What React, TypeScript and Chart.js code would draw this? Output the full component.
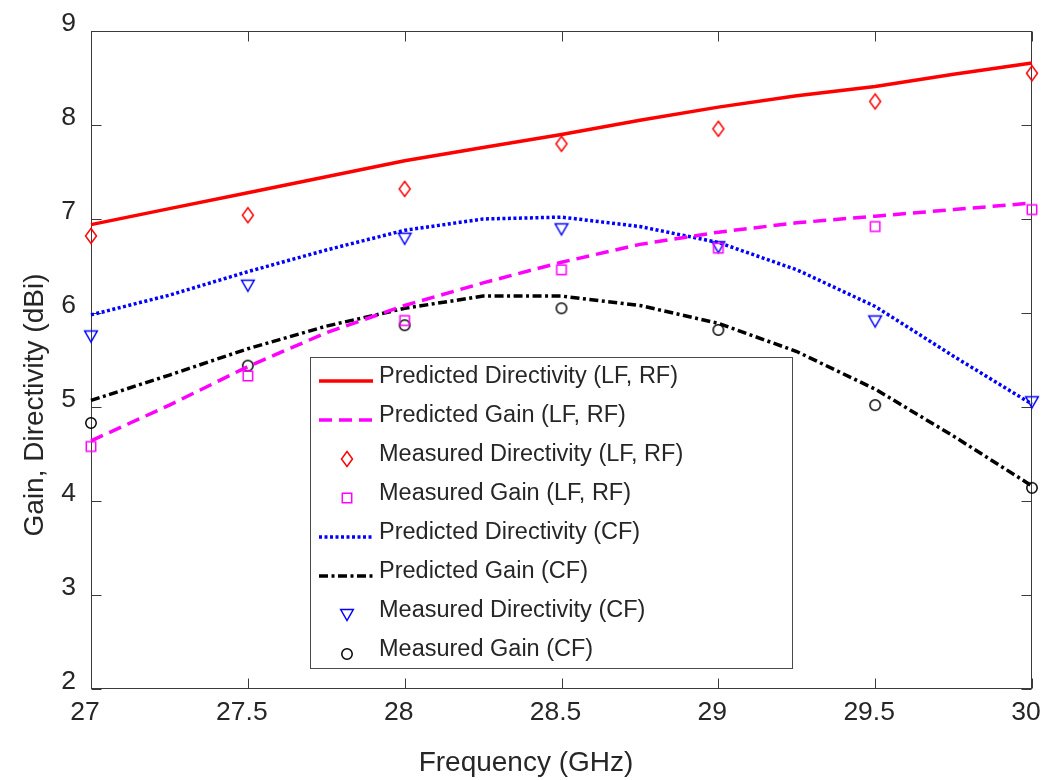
import React, { useEffect, useRef } from 'react';
import { Chart, registerables } from 'chart.js';

Chart.register(...registerables);

// ---- data ----
const predFreq = [27, 27.25, 27.5, 27.75, 28, 28.25, 28.5, 28.75, 29, 29.25, 29.5, 29.75, 30];
const measFreq = [27, 27.5, 28, 28.5, 29, 29.5, 30];

const predDirLF = [6.94, 7.11, 7.28, 7.45, 7.62, 7.76, 7.9, 8.05, 8.19, 8.31, 8.41, 8.54, 8.66];
const predGainLF = [4.64, 5.02, 5.43, 5.79, 6.08, 6.32, 6.54, 6.73, 6.86, 6.96, 7.03, 7.1, 7.17];
const measDirLF = [6.82, 7.04, 7.32, 7.8, 7.96, 8.25, 8.55];
const measGainLF = [4.58, 5.33, 5.92, 6.46, 6.69, 6.92, 7.1];
const predDirCF = [5.98, 6.19, 6.44, 6.67, 6.88, 7.0, 7.02, 6.92, 6.75, 6.46, 6.07, 5.54, 5.03];
const predGainCF = [5.07, 5.34, 5.62, 5.86, 6.05, 6.18, 6.18, 6.08, 5.89, 5.59, 5.19, 4.69, 4.16];
const measDirCF = [5.75, 6.29, 6.79, 6.89, 6.7, 5.91, 5.05];
const measGainCF = [4.83, 5.44, 5.87, 6.05, 5.82, 5.02, 4.14];

const xTicks = [27, 27.5, 28, 28.5, 29, 29.5, 30];
const yTicks = [2, 3, 4, 5, 6, 7, 8, 9];

const labels = [
  'Predicted Directivity (LF, RF)',
  'Predicted Gain (LF, RF)',
  'Measured Directivity (LF, RF)',
  'Measured Gain (LF, RF)',
  'Predicted Directivity (CF)',
  'Predicted Gain (CF)',
  'Measured Directivity (CF)',
  'Measured Gain (CF)',
];
const xTitle = 'Frequency (GHz)';
const yTitle = 'Gain, Directivity (dBi)';

const FONT = '"Liberation Sans", Arial, Helvetica, sans-serif';
const TEXT = '#262626';
const AXIS = '#3a3a3a';

function makeMarker(kind: string, color: string): HTMLCanvasElement {
  const c = document.createElement('canvas');
  const w = kind === 'diamond' ? 16 : 16;
  const h = kind === 'diamond' ? 20 : 16;
  c.width = w;
  c.height = h;
  const ctx = c.getContext('2d')!;
  ctx.strokeStyle = color;
  ctx.lineWidth = 1.5;
  const cx = w / 2;
  const cy = h / 2;
  ctx.beginPath();
  if (kind === 'diamond') {
    ctx.moveTo(cx, cy - 7.5);
    ctx.lineTo(cx + 5.5, cy);
    ctx.lineTo(cx, cy + 7.5);
    ctx.lineTo(cx - 5.5, cy);
    ctx.closePath();
  } else if (kind === 'square') {
    ctx.rect(cx - 4.7, cy - 4.7, 9.4, 9.4);
  } else if (kind === 'triangle') {
    ctx.moveTo(cx - 6.3, cy - 5.5);
    ctx.lineTo(cx + 6.3, cy - 5.5);
    ctx.lineTo(cx, cy + 5.5);
    ctx.closePath();
  } else {
    ctx.arc(cx, cy, 5.2, 0, Math.PI * 2);
  }
  ctx.stroke();
  return c;
}

function pts(xs: number[], ys: number[]) {
  return xs.map((x, i) => ({ x, y: ys[i] }));
}

const axesPlugin = {
  id: 'matlabAxes',
  beforeDatasetsDraw(chart: any) {
    const { ctx, chartArea: a, scales } = chart;
    ctx.save();
    ctx.strokeStyle = AXIS;
    ctx.lineWidth = 1;
    const L = Math.round(a.left) + 0.5;
    const R = Math.round(a.right) - 0.5;
    const T = Math.round(a.top) + 0.5;
    const B = Math.round(a.bottom) - 0.5;
    ctx.strokeRect(L, T, R - L, B - T);
    ctx.beginPath();
    xTicks.forEach((v) => {
      const px = Math.round(scales.x.getPixelForValue(v)) + 0.5;
      ctx.moveTo(px, B);
      ctx.lineTo(px, B - 10);
      ctx.moveTo(px, T);
      ctx.lineTo(px, T + 10);
    });
    yTicks.forEach((v) => {
      const py = Math.round(scales.y.getPixelForValue(v)) + 0.5;
      ctx.moveTo(L, py);
      ctx.lineTo(L + 10, py);
      ctx.moveTo(R, py);
      ctx.lineTo(R - 10, py);
    });
    ctx.stroke();
    ctx.restore();
  },
  afterDatasetsDraw(chart: any) {
    const { ctx } = chart;
    ctx.save();
    // legend box
    const bx = 310.5, by = 357.5, bw = 482, bh = 311;
    ctx.fillStyle = '#ffffff';
    ctx.fillRect(bx, by, bw, bh);
    ctx.strokeStyle = '#4a4a4a';
    ctx.lineWidth = 1;
    ctx.strokeRect(bx, by, bw, bh);
    ctx.font = `23.5px ${FONT}`;
    ctx.textBaseline = 'alphabetic';
    ctx.textAlign = 'left';
    chart.data.datasets.forEach((ds: any, i: number) => {
      const base = 383 + 39 * i;
      const sy = base - 2;
      if (ds.showLine) {
        ctx.save();
        ctx.strokeStyle = ds.borderColor;
        ctx.lineWidth = ds.borderWidth;
        ctx.setLineDash(ds.borderDash || []);
        ctx.beginPath();
        ctx.moveTo(319, sy);
        ctx.lineTo(373, sy);
        ctx.stroke();
        ctx.restore();
      } else {
        const img = ds.pointStyle as HTMLCanvasElement;
        ctx.drawImage(img, 347 - img.width / 2, sy - img.height / 2);
      }
      ctx.fillStyle = TEXT;
      ctx.fillText(ds.label, 379, base);
    });
    ctx.restore();
  },
  afterDraw(chart: any) {
    const { ctx } = chart;
    ctx.save();
    ctx.fillStyle = TEXT;
    ctx.font = `28px ${FONT}`;
    ctx.textAlign = 'center';
    ctx.textBaseline = 'alphabetic';
    ctx.fillText(xTitle, 526, 771);
    ctx.translate(43, 405);
    ctx.rotate(-Math.PI / 2);
    ctx.fillText(yTitle, 0, 0);
    ctx.restore();
  },
};

export default function App() {
  const ref = useRef<HTMLCanvasElement | null>(null);

  useEffect(() => {
    if (!ref.current) return;
    const diamond = makeMarker('diamond', '#ff0000');
    const square = makeMarker('square', '#ff00ff');
    const triangle = makeMarker('triangle', '#0000ff');
    const circle = makeMarker('circle', '#000000');

    const lineDs = (label: string, ys: number[], color: string, dash: number[]) => ({
      label,
      data: pts(predFreq, ys),
      showLine: true,
      borderColor: color,
      backgroundColor: color,
      borderWidth: 3.5,
      borderDash: dash,
      pointRadius: 0,
      pointHoverRadius: 0,
      tension: 0,
      fill: false,
      clip: false,
    });
    const markDs = (label: string, ys: number[], img: HTMLCanvasElement, color: string) => ({
      label,
      data: pts(measFreq, ys),
      showLine: false,
      pointStyle: img,
      pointRadius: 8,
      pointHoverRadius: 8,
      borderColor: color,
      backgroundColor: color,
      clip: false,
    });

    const chart = new Chart(ref.current, {
      type: 'scatter',
      data: {
        datasets: [
          lineDs(labels[0], predDirLF, '#ff0000', []),
          lineDs(labels[1], predGainLF, '#ff00ff', [13, 7]),
          markDs(labels[2], measDirLF, diamond, '#ff0000'),
          markDs(labels[3], measGainLF, square, '#ff00ff'),
          lineDs(labels[4], predDirCF, '#0000ff', [3, 2.5]),
          lineDs(labels[5], predGainCF, '#000000', [9, 3.5, 3, 3.5]),
          markDs(labels[6], measDirCF, triangle, '#0000ff'),
          markDs(labels[7], measGainCF, circle, '#000000'),
        ] as any,
      },
      options: {
        responsive: false,
        animation: false,
        devicePixelRatio: 1,
        layout: { padding: { top: 31, right: 25, left: 0, bottom: 0 } },
        plugins: {
          legend: { display: false },
          tooltip: { enabled: false },
        },
        scales: {
          x: {
            type: 'linear',
            min: 27,
            max: 30,
            afterFit: (s: any) => {
              s.height = 91;
            },
            afterBuildTicks: (s: any) => {
              s.ticks = xTicks.map((v) => ({ value: v }));
            },
            ticks: {
              font: { family: FONT, size: 26.5 },
              color: TEXT,
              padding: 8,
              labelOffset: -6,
              maxRotation: 0,
              autoSkip: false,
              callback: (v: any) => String(v),
            },
            grid: { display: false, drawTicks: false },
            border: { display: false },
          },
          y: {
            type: 'linear',
            min: 2,
            max: 9,
            afterFit: (s: any) => {
              s.width = 91;
            },
            afterBuildTicks: (s: any) => {
              s.ticks = yTicks.map((v) => ({ value: v }));
            },
            ticks: {
              font: { family: FONT, size: 26.5 },
              color: TEXT,
              padding: 15,
              labelOffset: -7,
              autoSkip: false,
              callback: (v: any) => String(v),
            },
            grid: { display: false, drawTicks: false },
            border: { display: false },
          },
        },
      } as any,
      plugins: [axesPlugin],
    });
    return () => chart.destroy();
  }, []);

  return (
    <div style={{ position: 'fixed', left: 0, top: 0, width: 1057, height: 780, background: '#ffffff' }}>
      <canvas ref={ref} width={1057} height={780} style={{ display: 'block' }} />
    </div>
  );
}
